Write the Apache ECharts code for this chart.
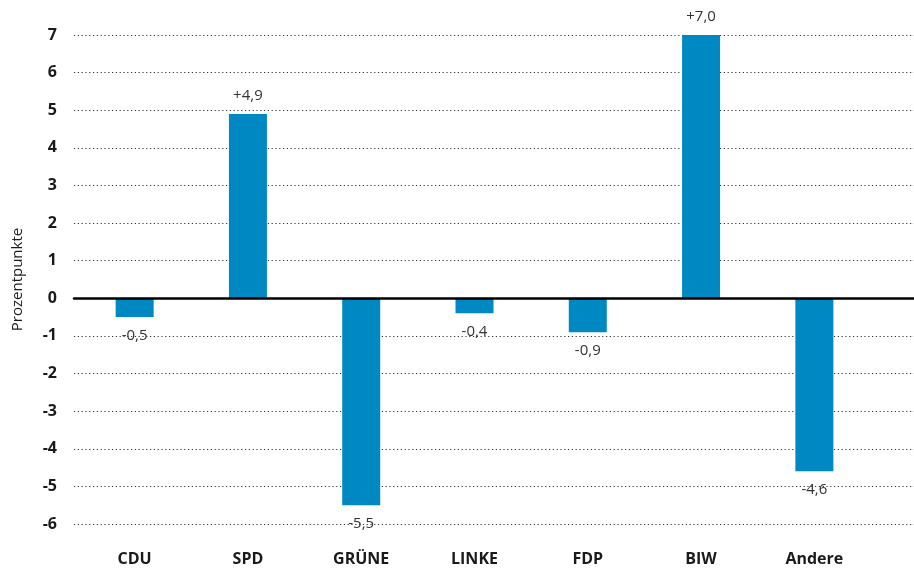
<!DOCTYPE html>
<html>
<head>
<meta charset="utf-8">
<script src="https://cdn.jsdelivr.net/npm/echarts@6/dist/echarts.min.js"></script>
<style>
  html, body { margin: 0; padding: 0; background: #fff; }
  #chart { width: 914px; height: 570px; }
</style>
</head>
<body>
<div id="chart"></div>
<script>
// Chart data
const parties = ['CDU', 'SPD', 'GRÜNE', 'LINKE', 'FDP', 'BIW', 'Andere'];
const changes = [-0.5, 4.9, -5.5, -0.4, -0.9, 7.0, -4.6];
const yMin = -6;
const yMax = 7;

const barColor = '#0088c3';
const fontFamily = '"Open Sans", "DejaVu Sans", sans-serif';

// Positive labels sit above the bar, negative below
const formatChange = (v) => (v > 0 ? '+' : '') + v.toFixed(1).replace('.', ',');

const barData = changes.map((v) => ({
  value: v,
  label: { position: v >= 0 ? 'top' : 'bottom' },
}));

const chart = echarts.init(document.getElementById('chart'));

const option = {
  animation: false,
  textStyle: { fontFamily },
  grid: [
    // bars
    { left: 78, right: 43, top: 35, bottom: 46 },
    // full-width grid lines and zero line
    { left: 74, right: 0, top: 35, bottom: 46 },
  ],
  xAxis: [
    {
      type: 'category',
      gridIndex: 0,
      data: parties,
      axisLine: { show: false, onZero: false },
      axisTick: { show: false },
      axisLabel: {
        color: '#1a1a1a',
        fontWeight: 'bold',
        fontSize: 16,
        margin: 27,
        fontFamily,
      },
    },
    {
      type: 'category',
      gridIndex: 1,
      data: [''],
      z: 10,
      axisLine: { show: true, onZero: true, lineStyle: { color: '#000', width: 2.5 } },
      axisTick: { show: false },
      axisLabel: { show: false },
    },
  ],
  yAxis: [
    {
      type: 'value',
      gridIndex: 0,
      min: yMin,
      max: yMax,
      interval: 1,
      show: false,
      splitLine: { show: false },
    },
    {
      type: 'value',
      gridIndex: 1,
      min: yMin,
      max: yMax,
      interval: 1,
      name: 'Prozentpunkte',
      nameLocation: 'middle',
      nameRotate: 90,
      nameGap: 49,
      nameTextStyle: { color: '#1a1a1a', fontSize: 15, fontFamily },
      axisLine: { show: false },
      axisTick: { show: false },
      axisLabel: {
        color: '#1a1a1a',
        fontWeight: 'bold',
        fontSize: 16,
        margin: 17,
        fontFamily,
      },
      splitLine: {
        show: true,
        lineStyle: { color: '#333', width: 1, type: [1.2, 2.6] },
      },
    },
  ],
  series: [
    {
      type: 'bar',
      xAxisIndex: 0,
      yAxisIndex: 0,
      data: barData,
      barWidth: 38,
      itemStyle: { color: barColor },
      label: {
        show: true,
        distance: 11,
        color: '#333',
        fontSize: 15,
        fontFamily,
        formatter: (p) => formatChange(p.value),
      },
    },
  ],
};

chart.setOption(option);
</script>
</body>
</html>
